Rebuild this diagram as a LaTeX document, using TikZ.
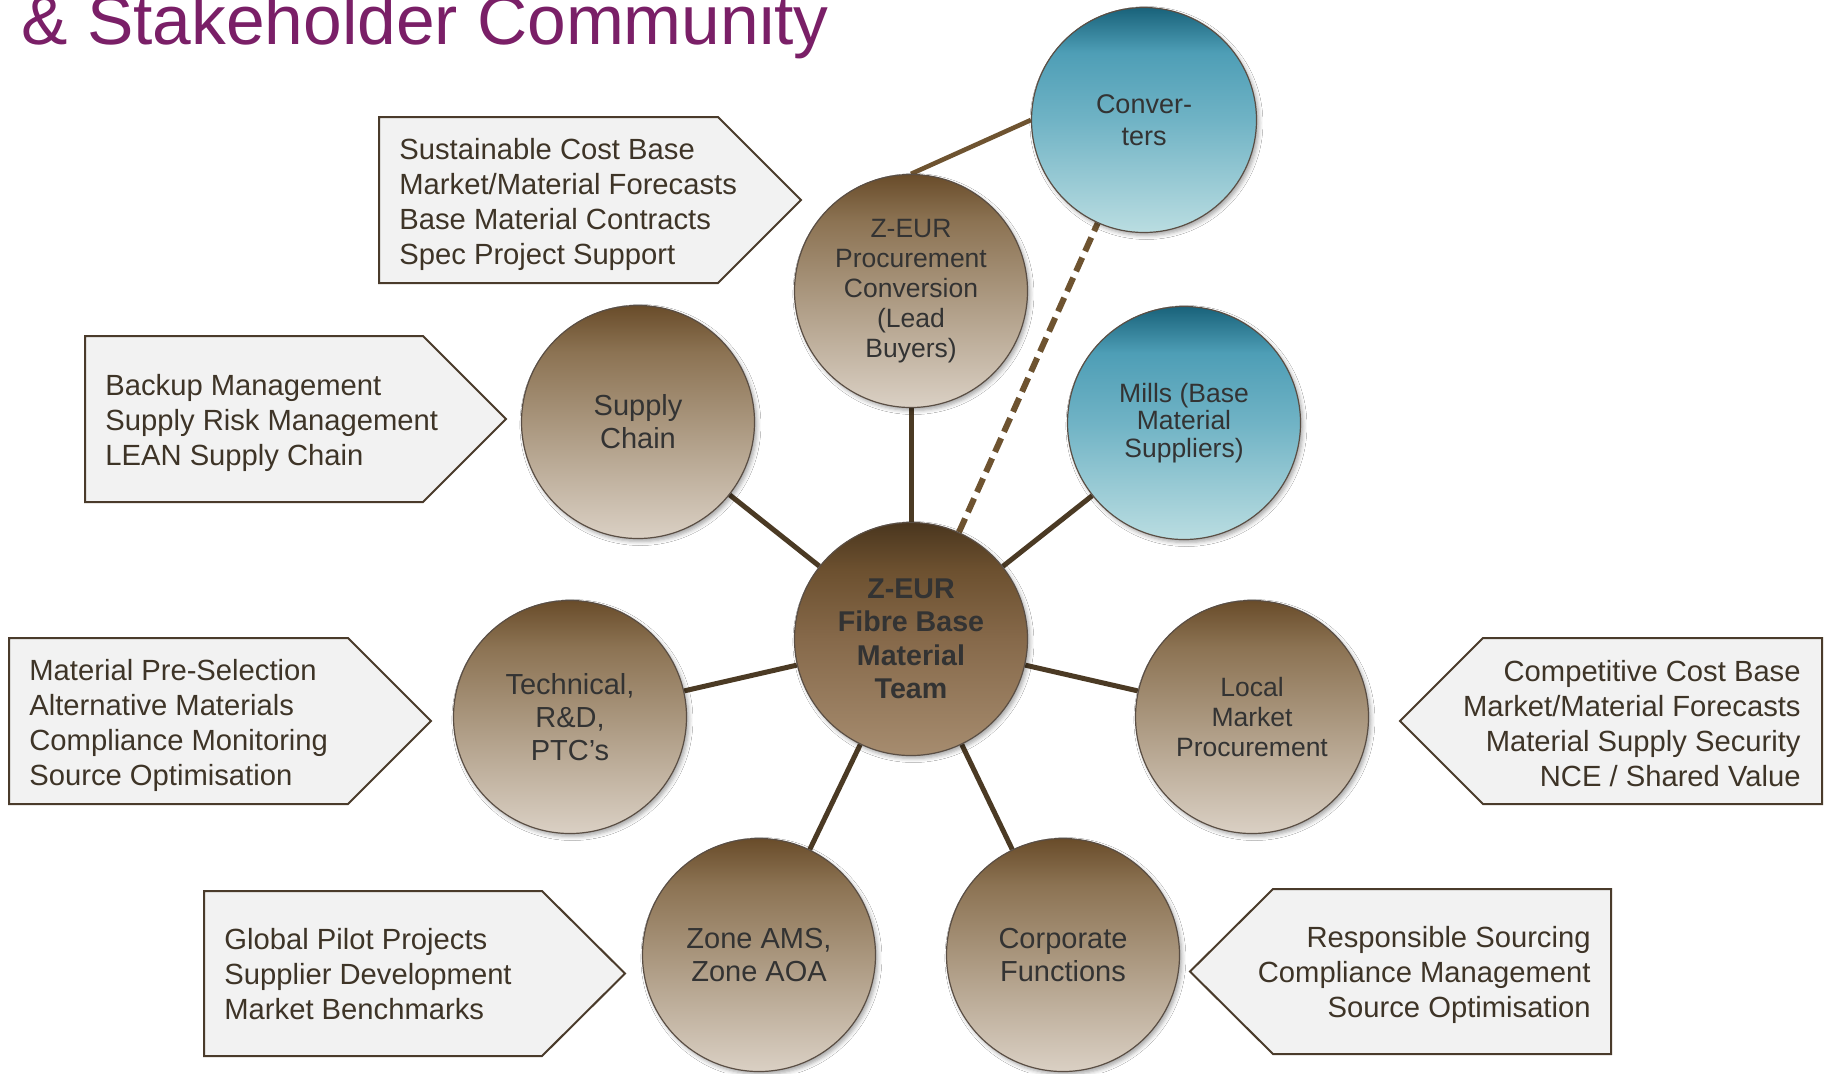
\documentclass[tikz,border=0pt]{standalone}
\usepackage{fontspec}
\setmainfont{Liberation Sans}
\usetikzlibrary{shadows.blur}

\pgfdeclarelayer{background}
\pgfsetlayers{background,main}

% palette
\definecolor{titlepurple}{HTML}{7A1F67}
\definecolor{linkbrown}{HTML}{4B3A24}
\definecolor{dashbrown}{HTML}{6E5330}
\definecolor{boxfill}{HTML}{F2F2F2}
\definecolor{boxline}{HTML}{4A3B2B}
\definecolor{boxtext}{HTML}{3E3427}
\definecolor{balltext}{HTML}{333333}
\definecolor{ballrim}{HTML}{5A4E44}

% gradient stops, bottom (A) to top (D)
\definecolor{brA}{HTML}{DAD0C4}
\definecolor{brB}{HTML}{A9967D}
\definecolor{brC}{HTML}{8C7353}
\definecolor{brD}{HTML}{694C2A}
\definecolor{coA}{HTML}{A68C6F}
\definecolor{coB}{HTML}{86694A}
\definecolor{coC}{HTML}{6C502F}
\definecolor{coD}{HTML}{4A361E}
\definecolor{teA}{HTML}{BADDE1}
\definecolor{teB}{HTML}{70B3C5}
\definecolor{teC}{HTML}{4E9EB6}
\definecolor{teD}{HTML}{19627A}

\pgfdeclareverticalshading{brownball}{100bp}{color(0bp)=(brA); color(25bp)=(brA); color(50bp)=(brB); color(65bp)=(brC); color(75bp)=(brD); color(100bp)=(brD)}
\pgfdeclareverticalshading{coreball}{100bp}{color(0bp)=(coA); color(25bp)=(coA); color(50bp)=(coB); color(65bp)=(coC); color(75bp)=(coD); color(100bp)=(coD)}
\pgfdeclareverticalshading{tealball}{100bp}{color(0bp)=(teA); color(25bp)=(teA); color(50bp)=(teB); color(65bp)=(teC); color(75bp)=(teD); color(100bp)=(teD)}

\tikzset{
  ball/.style={circle, minimum size=116.5pt, inner sep=0pt, draw=ballrim, line width=0.6pt,
    align=center, text=balltext, shade,
    blur shadow={shadow xshift=1.2pt, shadow yshift=-1.5pt, shadow blur radius=2pt, shadow opacity=35}},
  bigtext/.style={font={\fontsize{14.5}{16.5}\selectfont}},
  smalltext/.style={font={\fontsize{13.25}{15}\selectfont}},
  brownnode/.style={ball, shading=brownball},
  tealnode/.style={ball, shading=tealball},
  corenode/.style={ball, shading=coreball, font={\fontsize{14.3}{16.75}\selectfont\bfseries}},
  link/.style={draw=linkbrown, line width=2.5pt},
  dashlink/.style={draw=dashbrown, line width=3pt, dash pattern=on 7.5pt off 3.5pt},
  toplink/.style={draw=dashbrown, line width=2.3pt},
  calloutbox/.style={fill=boxfill, draw=boxline, line width=1pt, line join=miter},
  calltext/.style={inner sep=0pt, text=boxtext, font={\fontsize{14.6}{17.5}\selectfont}}
}

\begin{document}
\begin{tikzpicture}[x=0.5pt, y=-0.5pt]
\useasboundingbox (0,0) rectangle (1829,1073);

% heading line
\node[anchor=base west, inner sep=0pt, text=titlepurple, font={\fontsize{34.75}{40}\selectfont}]
  (title) at (21,44) {\& Stakeholder Community};

% team and partner circles
\node[corenode] (core) at (911,639) {Z-EUR\\Fibre Base\\Material\\Team};
\node[tealnode, minimum size=112.5pt, font={\fontsize{13.5}{16}\selectfont}] (conv) at (1144,120) {Conver-\\ters};
\node[brownnode, smalltext] (pc) at (911,291) {Z-EUR\\Procurement\\Conversion\\(Lead\\Buyers)};
\node[tealnode, font={\fontsize{13.25}{13.75}\selectfont}] (mills) at (1184,423) {Mills (Base\\Material\\Suppliers)};
\node[brownnode, bigtext] (sc) at (638,422) {Supply\\Chain};
\node[brownnode, bigtext] (tech) at (570,717) {Technical,\\R\&D,\\PTC’s};
\node[brownnode, smalltext] (local) at (1252,717) {Local\\Market\\Procurement};
\node[brownnode, bigtext] (zone) at (759,955) {Zone AMS,\\Zone AOA};
\node[brownnode, bigtext] (corp) at (1063,955) {Corporate\\Functions};

% white ground and spokes behind the circles
\begin{pgfonlayer}{background}
  \fill[white] (0,0) rectangle (1829,1073);
  \draw[link] (core) -- (pc);
  \draw[link] (core) -- (sc);
  \draw[link] (core) -- (mills);
  \draw[link] (core) -- (tech);
  \draw[link] (core) -- (local);
  \draw[link] (core) -- (zone);
  \draw[link] (core) -- (corp);
  \draw[dashlink] (core) -- (conv);
  \draw[toplink] (pc.north) -- (conv.west);
\end{pgfonlayer}

% arrow-shaped callouts pointing right
\draw[calloutbox] (379,117) -- (718,117) -- (801,200) -- (718,283) -- (379,283) -- cycle;
\node[calltext, anchor=west, align=left] (pcnotes) at (399,204)
  {Sustainable Cost Base\\Market/Material Forecasts\\Base Material Contracts\\Spec Project Support};

\draw[calloutbox] (85,336) -- (423,336) -- (506,419) -- (423,502) -- (85,502) -- cycle;
\node[calltext, anchor=west, align=left] (scnotes) at (105,423)
  {Backup Management\\Supply Risk Management\\LEAN Supply Chain};

\draw[calloutbox] (9,638) -- (348,638) -- (431,721) -- (348,804) -- (9,804) -- cycle;
\node[calltext, anchor=west, align=left] (technotes) at (29,725)
  {Material Pre-Selection\\Alternative Materials\\Compliance Monitoring\\Source Optimisation};

\draw[calloutbox] (204,891) -- (542,891) -- (625,973.5) -- (542,1056) -- (204,1056) -- cycle;
\node[calltext, anchor=west, align=left] (zonenotes) at (224,974)
  {Global Pilot Projects\\Supplier Development\\Market Benchmarks};

% arrow-shaped callouts pointing left
\draw[calloutbox] (1822,638) -- (1483,638) -- (1400,721) -- (1483,804) -- (1822,804) -- cycle;
\node[calltext, anchor=east, align=right] (localnotes) at (1801,724)
  {Competitive Cost Base\\Market/Material Forecasts\\Material Supply Security\\NCE / Shared Value};

\draw[calloutbox] (1611,889) -- (1273,889) -- (1190,971.5) -- (1273,1054) -- (1611,1054) -- cycle;
\node[calltext, anchor=east, align=right] (corpnotes) at (1591,975)
  {Responsible Sourcing\\Compliance Management\\Source Optimisation};
\end{tikzpicture}
\end{document}
